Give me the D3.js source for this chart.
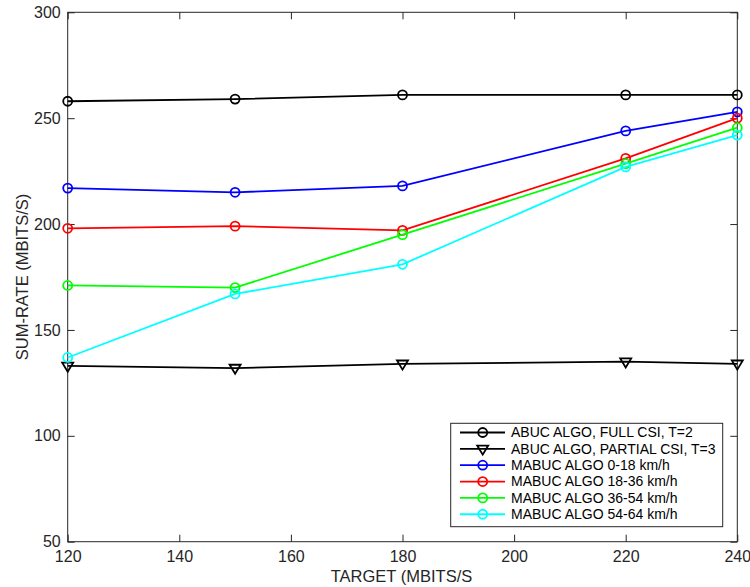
<!DOCTYPE html>
<html><head><meta charset="utf-8">
<script src="https://cdn.jsdelivr.net/npm/d3@7"></script>
<style>body{margin:0;background:#fff}svg{display:block}</style>
</head><body><svg id="c" width="750" height="587"></svg>
<script>
const xValues = [120, 150, 180, 220, 240];
const seriesNames = ["ABUC ALGO, FULL CSI, T=2","ABUC ALGO, PARTIAL CSI, T=3","MABUC ALGO 0-18 km/h","MABUC ALGO 18-36 km/h","MABUC ALGO 36-54 km/h","MABUC ALGO 54-64 km/h"];
const fullCSI = [258, 259, 261, 261, 261];
const partialCSI = [133, 132, 134, 135, 134];
const mabuc0_18 = [217, 215, 218, 244, 253];
const mabuc18_36 = [198, 199, 197, 231, 250];
const mabuc36_54 = [171, 170, 195, 228.5, 245.5];
const mabuc54_64 = [137, 167, 181, 227, 242];
const xTicks = [120, 140, 160, 180, 200, 220, 240];
const yTicks = [50, 100, 150, 200, 250, 300];
const colors = ["#000000","#000000","#0000ff","#ff0000","#00ff00","#00ffff"];
const markers = ["circle","triangle","circle","circle","circle","circle"];
const allSeries = [fullCSI, partialCSI, mabuc0_18, mabuc18_36, mabuc36_54, mabuc54_64];

const svg = d3.select("#c");
const L = 67.7, R = 737.3, T = 12.3, B = 541.7;
const x = d3.scaleLinear().domain([120, 240]).range([L, R]);
const y = d3.scaleLinear().domain([50, 300]).range([B, T]);
const font = "'Liberation Sans', Arial, sans-serif";
const axisCol = "#262626";

const ax = svg.append("g").attr("font-family", font);
function styleAxis(g){ g.select(".domain").remove(); g.selectAll("line").attr("stroke", axisCol); g.selectAll("text").attr("fill", axisCol).attr("font-size", 16).attr("font-family", font); }
ax.append("g").attr("transform", `translate(0,${B})`).call(d3.axisBottom(x).tickValues(xTicks).tickSize(-7).tickPadding(9).tickFormat(d3.format("d"))).call(styleAxis);
ax.append("g").attr("transform", `translate(0,${T})`).call(d3.axisTop(x).tickValues(xTicks).tickSize(-7).tickFormat("")).call(styleAxis);
ax.append("g").attr("transform", `translate(${L},0)`).call(d3.axisLeft(y).tickValues(yTicks).tickSize(-7).tickPadding(7).tickFormat(d3.format("d"))).call(styleAxis);
ax.append("g").attr("transform", `translate(${R},0)`).call(d3.axisRight(y).tickValues(yTicks).tickSize(-7).tickFormat("")).call(styleAxis);
svg.append("rect").attr("x", L).attr("y", T).attr("width", R - L).attr("height", B - T).attr("fill", "none").attr("stroke", axisCol).attr("stroke-width", 1);

function drawMarker(g, type, cx, cy, col){
  if (type === "circle") {
    g.append("circle").attr("cx", cx).attr("cy", cy).attr("r", 4.5).attr("fill", "none").attr("stroke", col).attr("stroke-width", 1.8);
  } else {
    const s = 5.5;
    g.append("path").attr("d", `M${cx - s},${cy - s*0.6}L${cx + s},${cy - s*0.6}L${cx},${cy + s*1.05}Z`).attr("fill", "none").attr("stroke", col).attr("stroke-width", 1.8);
  }
}

const line = d3.line().x((d, i) => x(xValues[i])).y(d => y(d));
const plot = svg.append("g");
allSeries.forEach((s, k) => {
  plot.append("path").attr("d", line(s)).attr("fill", "none").attr("stroke", colors[k]).attr("stroke-width", 1.8);
  s.forEach((v, i) => drawMarker(plot, markers[k], x(xValues[i]), y(v), colors[k]));
});

const lg = svg.append("g");
lg.append("rect").attr("x", 450.7).attr("y", 423.3).attr("width", 272).attr("height", 103.4).attr("fill", "#fff").attr("stroke", axisCol).attr("stroke-width", 1);
seriesNames.forEach((n, k) => {
  const yy = 432.5 + k * 16.35;
  lg.append("line").attr("x1", 460).attr("x2", 505).attr("y1", yy).attr("y2", yy).attr("stroke", colors[k]).attr("stroke-width", 1.8);
  drawMarker(lg, markers[k], 482.7, yy, colors[k]);
  lg.append("text").attr("x", 511).attr("y", yy).attr("dy", "0.35em").attr("font-family", font).attr("font-size", 14).attr("fill", "#000").text(n);
});

svg.append("text").attr("x", 401.5).attr("y", 582).attr("text-anchor", "middle").attr("font-family", font).attr("font-size", 16.5).attr("fill", axisCol).text("TARGET (MBITS/S");
svg.append("text").attr("transform", "translate(27.5,277) rotate(-90)").attr("text-anchor", "middle").attr("font-family", font).attr("font-size", 16.5).attr("fill", axisCol).text("SUM-RATE (MBITS/S)");
</script></body></html>
